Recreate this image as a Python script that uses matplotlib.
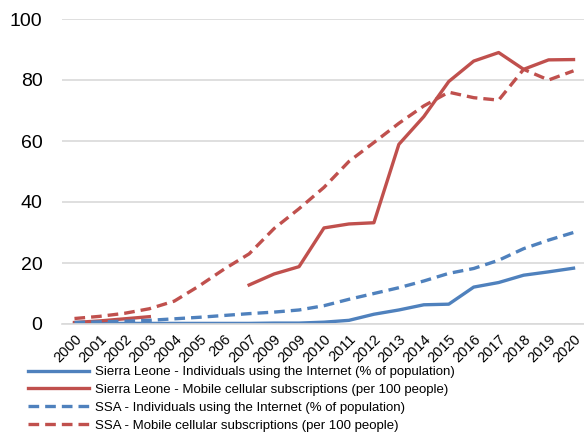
import numpy as np
import matplotlib
matplotlib.use("Agg")
import matplotlib.pyplot as plt

nan = np.nan

# tick labels as printed on the source chart (typos kept)
year_labels = ["2000", "2001", "2002", "2003", "2004", "2005", "206", "2007",
               "2009", "2009", "2010", "2011", "2012", "2013", "2014", "2015",
               "2016", "2017", "2018", "2019", "2020"]

sl_internet = [0.1, 0.2, 0.2, 0.2, 0.2, 0.2, 0.2, 0.2, 0.3, 0.3, 0.6,
               1.2, 3.2, 4.6, 6.3, 6.5, 12.1, 13.6, 16.0, 17.1, 18.3]
sl_mobile = [0.5, 1.0, 1.7, 2.4, nan, nan, nan, 12.8, 16.4, 18.8, 31.5,
             32.8, 33.2, 58.9, 68.0, 79.5, 86.2, 89.0, 83.5, 86.6, 86.7]
ssa_internet = [0.5, 0.7, 0.9, 1.2, 1.7, 2.2, 2.8, 3.4, 3.9, 4.6, 6.0,
                8.1, 10.0, 11.9, 14.1, 16.6, 18.2, 20.9, 24.7, 27.5, 30.0]
ssa_mobile = [1.8, 2.5, 3.5, 5.0, 7.5, 12.5, 18.0, 23.0, 31.3, 37.8, 44.8,
              53.3, 59.5, 65.8, 71.5, 76.0, 74.2, 73.4, 83.5, 80.0, 83.0]

BLUE = "#4f81bd"
RED = "#c0504d"

plt.rcParams["font.family"] = ["Liberation Sans", "DejaVu Sans"]

fig = plt.figure(figsize=(5.84, 4.32), dpi=100)
ax = fig.add_axes([62 / 584, 108 / 432, 524 / 584, 305 / 432])

x = np.arange(len(year_labels))
lw = 2.4
dash = (0, (3.2, 1.8))
ax.plot(x, sl_internet, color=BLUE, lw=lw,
        label="Sierra Leone - Individuals using the Internet (% of population)")
ax.plot(x, sl_mobile, color=RED, lw=lw,
        label="Sierra Leone - Mobile cellular subscriptions (per 100 people)")
ax.plot(x, ssa_internet, color=BLUE, lw=lw, ls=dash,
        label="SSA - Individuals using the Internet (% of population)")
ax.plot(x, ssa_mobile, color=RED, lw=lw, ls=dash,
        label="SSA - Mobile cellular subscriptions (per 100 people)")

ax.set_xlim(-0.5, len(year_labels) - 0.5)
ax.set_ylim(0, 100)
ax.set_yticks(range(0, 101, 20))
ax.tick_params(axis="y", length=0, labelsize=14, pad=14)
ax.set_xticks(x)
ax.set_xticklabels(year_labels, rotation=45, ha="right",
                   rotation_mode="anchor", fontsize=10.5)
ax.tick_params(axis="x", length=0, pad=6)

ax.grid(axis="y", color="#d9d9d9", lw=1.2)
ax.set_axisbelow(True)
for side in ("left", "right", "top"):
    ax.spines[side].set_visible(False)
ax.spines["bottom"].set_color("#d9d9d9")
ax.spines["bottom"].set_linewidth(1.2)

fig.legend(loc="upper left", bbox_to_anchor=(28 / 584, 1 - 366 / 432),
           frameon=False, fontsize=9.5, handlelength=4.6, handletextpad=0.45,
           labelspacing=0.42, borderpad=0, borderaxespad=0)

fig.savefig("out.png", dpi=100)
